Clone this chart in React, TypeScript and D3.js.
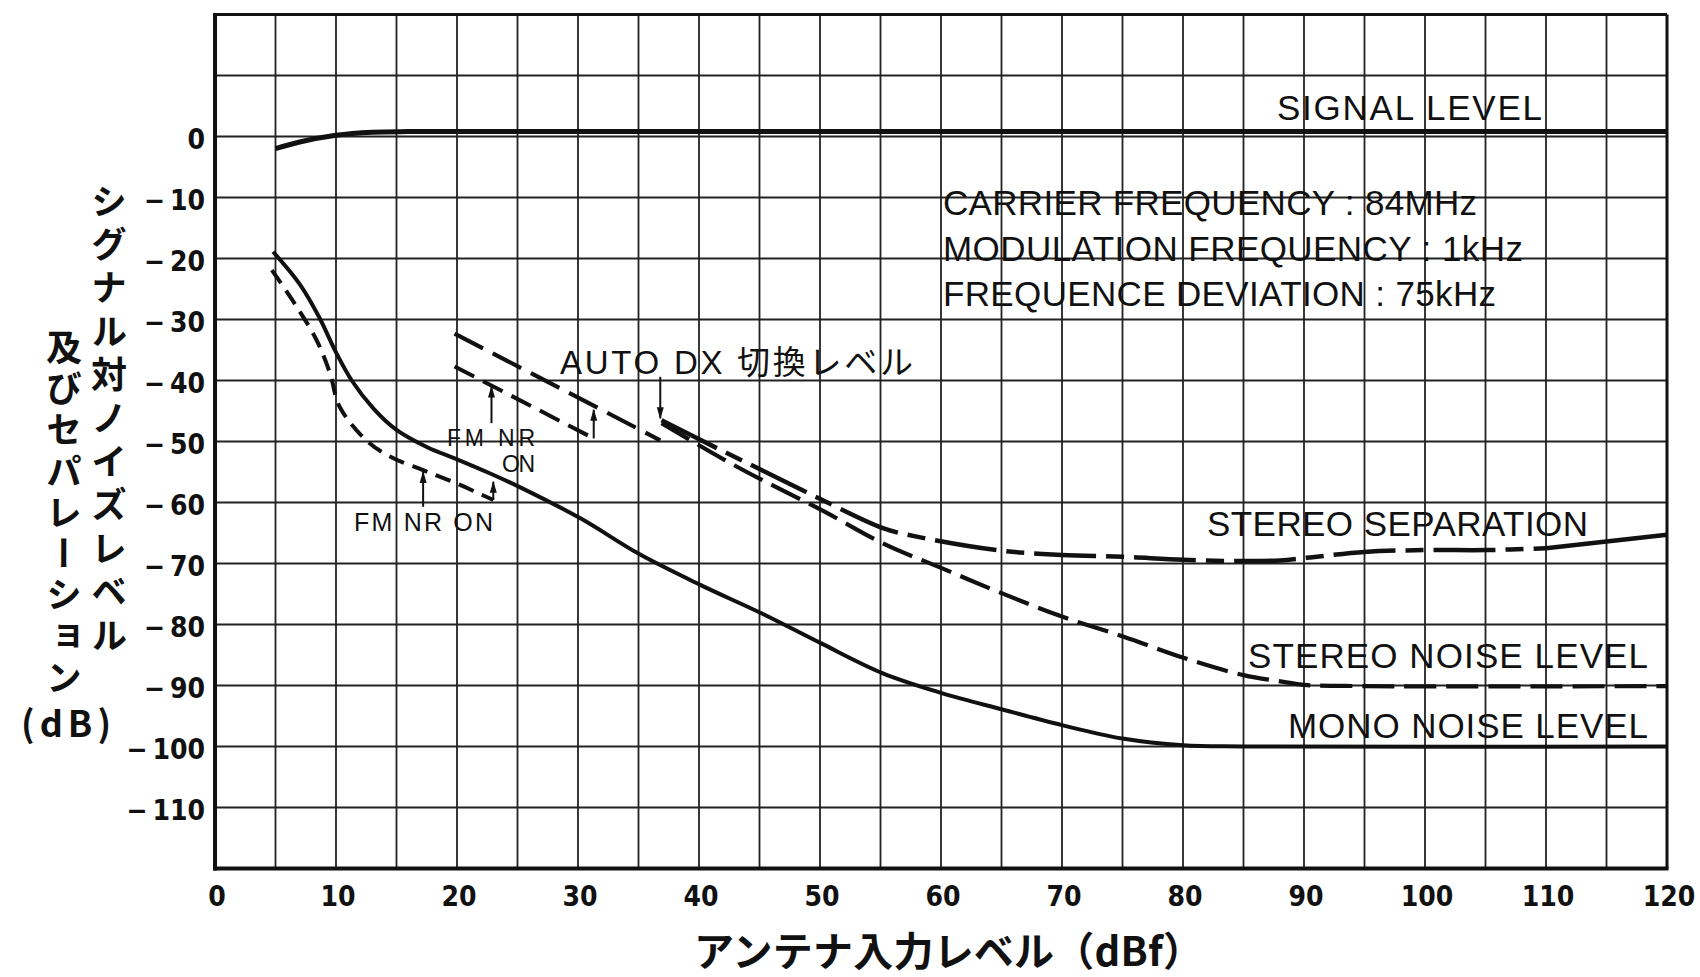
import React from 'react';
import * as d3 from 'd3';

const WIDTH = 1700;
const HEIGHT = 977;

// axis ticks
const xTicks = [0, 10, 20, 30, 40, 50, 60, 70, 80, 90, 100, 110, 120];
const yTicks = [0, -10, -20, -30, -40, -50, -60, -70, -80, -90, -100, -110];

// SIGNAL LEVEL
const signalX = [5, 7, 10, 13, 16, 20, 60, 120];
const signalY = [-2.0, -0.9, 0.2, 0.7, 0.8, 0.8, 0.8, 0.8];

// MONO NOISE LEVEL
const monoX = [4.8, 7, 8.6, 10.0, 11.3, 13.1, 15, 17.5, 20.1, 22.7, 25.1, 30.2, 35.1, 40.1, 45.2, 50.1, 55.2, 60, 65, 70, 75, 80, 85, 120];
const monoY = [-18.9, -24.2, -29.6, -35.4, -40.0, -44.6, -48.1, -50.9, -53.0, -55.2, -57.4, -62.6, -68.5, -73.5, -78.2, -83.1, -88.0, -91.2, -93.9, -96.5, -98.7, -99.8, -100, -100];

// MONO NOISE, FM NR ON
const monoNrX = [4.7, 6.75, 8.4, 9.5, 10.3, 12.5, 14.5, 17.2, 20, 23];
const monoNrY = [-21.9, -27.9, -33.4, -38.8, -44.3, -49.8, -52.5, -54.7, -56.9, -59.6];

// STEREO NOISE before AUTO DX switch
const stereoPreX = [19.8, 36.8];
const stereoPreY = [-32.3, -49.8];

// STEREO NOISE, FM NR ON
const stereoNrX = [19.8, 31.3];
const stereoNrY = [-37.7, -49.5];

// STEREO NOISE LEVEL
const stereoNoiseX = [36.9, 42.1, 45.2, 50.1, 55.2, 60.1, 64.8, 70, 75.1, 80.1, 85, 88.3, 90, 95, 120];
const stereoNoiseY = [-47.0, -53.0, -56.3, -61.2, -66.7, -70.8, -74.7, -78.7, -82.0, -85.5, -88.3, -89.4, -89.9, -90.1, -90.1];

// STEREO SEPARATION
const sepX = [36.9, 42.1, 45.2, 49.9, 55.2, 58, 65, 70, 75, 80, 85, 88, 90.5, 95, 100, 105, 110, 115, 120];
const sepY = [-46.5, -51.7, -54.7, -59.3, -64.2, -65.6, -67.9, -68.6, -68.9, -69.4, -69.6, -69.5, -69.0, -68.1, -67.8, -67.8, -67.5, -66.4, -65.3];

// arrows: [x, yFrom, yTo]
const arrows = [
  [17.2, -60.7, -55.0],
  [22.85, -47.0, -41.0],
  [23.0, -59.6, -56.6],
  [31.3, -49.5, -44.8],
  [36.8, -39.4, -46.2],
];

const yTitleRight = 'シグナル対ノイズレベル';
const yTitleLeft = '及びセパレーション';

const xScale = d3.scaleLinear().domain([0, 120]).range([215, 1667]);
const yScale = d3.scaleLinear().domain([20, -120]).range([14.5, 868.5]);

const smooth = d3
  .line<[number, number]>()
  .x((d) => xScale(d[0]))
  .y((d) => yScale(d[1]))
  .curve(d3.curveCatmullRom.alpha(0.5));

const pts = (xs: number[], ys: number[]) => d3.zip(xs, ys) as [number, number][];

const NUM_FONT = "'Liberation Sans Narrow', 'DejaVu Sans Condensed', sans-serif";
const LBL_FONT = "'Liberation Sans', 'Noto Sans CJK JP', sans-serif";
const JP_FONT = "'Noto Sans CJK JP', sans-serif";
const INK = '#111';

const App = () => {
  const x0 = xScale(0);
  const x1 = xScale(120);
  const yTop = yScale(20);
  const yBot = yScale(-120);

  const sep = pts(sepX, sepY);
  const sepDashed = sep.filter((d) => d[0] <= 110);
  const sepSolid = sep.filter((d) => d[0] >= 110);

  return (
    <svg
      width={WIDTH}
      height={HEIGHT}
      viewBox={`0 0 ${WIDTH} ${HEIGHT}`}
      style={{ position: 'absolute', left: 0, top: 0, background: '#fff' }}
    >
      <defs>
        <marker
          id="arrow"
          markerUnits="userSpaceOnUse"
          markerWidth={12}
          markerHeight={8}
          refX={11}
          refY={4}
          orient="auto"
        >
          <path d="M0,0.5 L12,4 L0,7.5 z" fill={INK} />
        </marker>
      </defs>
      <rect x={0} y={0} width={WIDTH} height={HEIGHT} fill="#fff" />

      {/* grid */}
      <g stroke="#222" strokeWidth={1.8}>
        {d3.range(5, 120, 5).map((v) => (
          <line key={'gx' + v} x1={xScale(v)} x2={xScale(v)} y1={yTop} y2={yBot} />
        ))}
        {d3.range(10, -120, -10).map((v) => (
          <line key={'gy' + v} x1={x0} x2={x1} y1={yScale(v)} y2={yScale(v)} />
        ))}
      </g>

      {/* frame */}
      <g stroke={INK} fill="none">
        <line x1={x0} x2={x0} y1={yTop - 1.5} y2={yBot + 2} strokeWidth={4} />
        <line x1={x0 - 2} x2={x1 + 1.5} y1={yBot} y2={yBot} strokeWidth={4} />
        <line x1={x0} x2={x1} y1={yTop} y2={yTop} strokeWidth={3} />
        <line x1={x1} x2={x1} y1={yTop} y2={yBot} strokeWidth={3} />
      </g>

      {/* y tick labels */}
      <g fontFamily={NUM_FONT} fontSize={28} fontWeight={700} fill={INK} textAnchor="end">
        {yTicks.map((v) => (
          <text key={'ty' + v} x={205} y={yScale(v) + 12}>
            {v === 0 ? '0' : '\u2212\u2009' + Math.abs(v)}
          </text>
        ))}
      </g>

      {/* x tick labels */}
      <g fontFamily={NUM_FONT} fontSize={28} fontWeight={700} fill={INK} textAnchor="middle">
        {xTicks.map((v) => (
          <text key={'tx' + v} x={xScale(v) + 2} y={906}>
            {v}
          </text>
        ))}
      </g>

      {/* curves */}
      <g fill="none" stroke={INK} strokeLinecap="butt">
        <path d={smooth(pts(signalX, signalY)) || ''} strokeWidth={5} />
        <path d={smooth(pts(monoX, monoY)) || ''} strokeWidth={4} />
        <path d={smooth(pts(monoNrX, monoNrY)) || ''} strokeWidth={4} strokeDasharray="16 9" />
        <path d={smooth(pts(stereoPreX, stereoPreY)) || ''} strokeWidth={4.2} strokeDasharray="32 11" />
        <path d={smooth(pts(stereoNrX, stereoNrY)) || ''} strokeWidth={4} strokeDasharray="22 10" />
        <path d={smooth(pts(stereoNoiseX, stereoNoiseY)) || ''} strokeWidth={4.2} strokeDasharray="32 10" />
        <path d={smooth(sepDashed) || ''} strokeWidth={4.5} strokeDasharray="62 10 18 10" />
        <path d={smooth(sepSolid) || ''} strokeWidth={4.5} />
      </g>

      {/* arrows */}
      <g stroke={INK} strokeWidth={2}>
        {arrows.map(([ax, ya, yb], i) => (
          <line
            key={'ar' + i}
            x1={xScale(ax)}
            x2={xScale(ax)}
            y1={yScale(ya)}
            y2={yScale(yb)}
            markerEnd="url(#arrow)"
          />
        ))}
      </g>

      {/* labels */}
      <g fontFamily={LBL_FONT} fill={INK} fontSize={35}>
        <text x={1277} y={120} textLength={265} lengthAdjust="spacing">SIGNAL LEVEL</text>
        <text x={943} y={215} textLength={534} lengthAdjust="spacing">CARRIER FREQUENCY : 84MHz</text>
        <text x={943} y={261} textLength={580} lengthAdjust="spacing">MODULATION FREQUENCY : 1kHz</text>
        <text x={943} y={306} textLength={553} lengthAdjust="spacing">FREQUENCE DEVIATION : 75kHz</text>
        <text x={1207} y={536} textLength={381} lengthAdjust="spacing">STEREO SEPARATION</text>
        <text x={1248} y={668} textLength={400} lengthAdjust="spacing">STEREO NOISE LEVEL</text>
        <text x={1288} y={738} textLength={360} lengthAdjust="spacing">MONO NOISE LEVEL</text>
      </g>
      <text x={560} y={374} fontFamily={LBL_FONT} fill={INK} fontSize={33} textLength={353} lengthAdjust="spacing">
        AUTO DX 切換レベル
      </text>
      <g fontFamily={LBL_FONT} fill={INK} fontSize={23}>
        <text x={447} y={446} textLength={88} lengthAdjust="spacing">FM NR</text>
        <text x={502} y={472} textLength={33} lengthAdjust="spacing">ON</text>
      </g>
      <text x={354} y={531} fontFamily={LBL_FONT} fill={INK} fontSize={25} textLength={139} lengthAdjust="spacing">
        FM NR ON
      </text>

      {/* axis titles */}
      <text
        x={694}
        y={966}
        fontFamily={JP_FONT}
        fontWeight={700}
        fontSize={40}
        fill={INK}
        textLength={509}
        lengthAdjust="spacing"
      >
        アンテナ入力レベル（dBf）
      </text>
      <g fontFamily={JP_FONT} fontWeight={700} fontSize={36} fill={INK} style={{ writingMode: 'vertical-rl' }}>
        <text x={109} y={183} letterSpacing={7.4}>
          {yTitleRight}
        </text>
        <text x={64} y={329} letterSpacing={5.3}>
          {yTitleLeft}
        </text>
      </g>
      <text
        x={66}
        y={737}
        fontFamily={JP_FONT}
        fontWeight={700}
        fontSize={36}
        fill={INK}
        textAnchor="middle"
        textLength={90}
        lengthAdjust="spacing"
      >
        (dB)
      </text>
    </svg>
  );
};

export default App;
